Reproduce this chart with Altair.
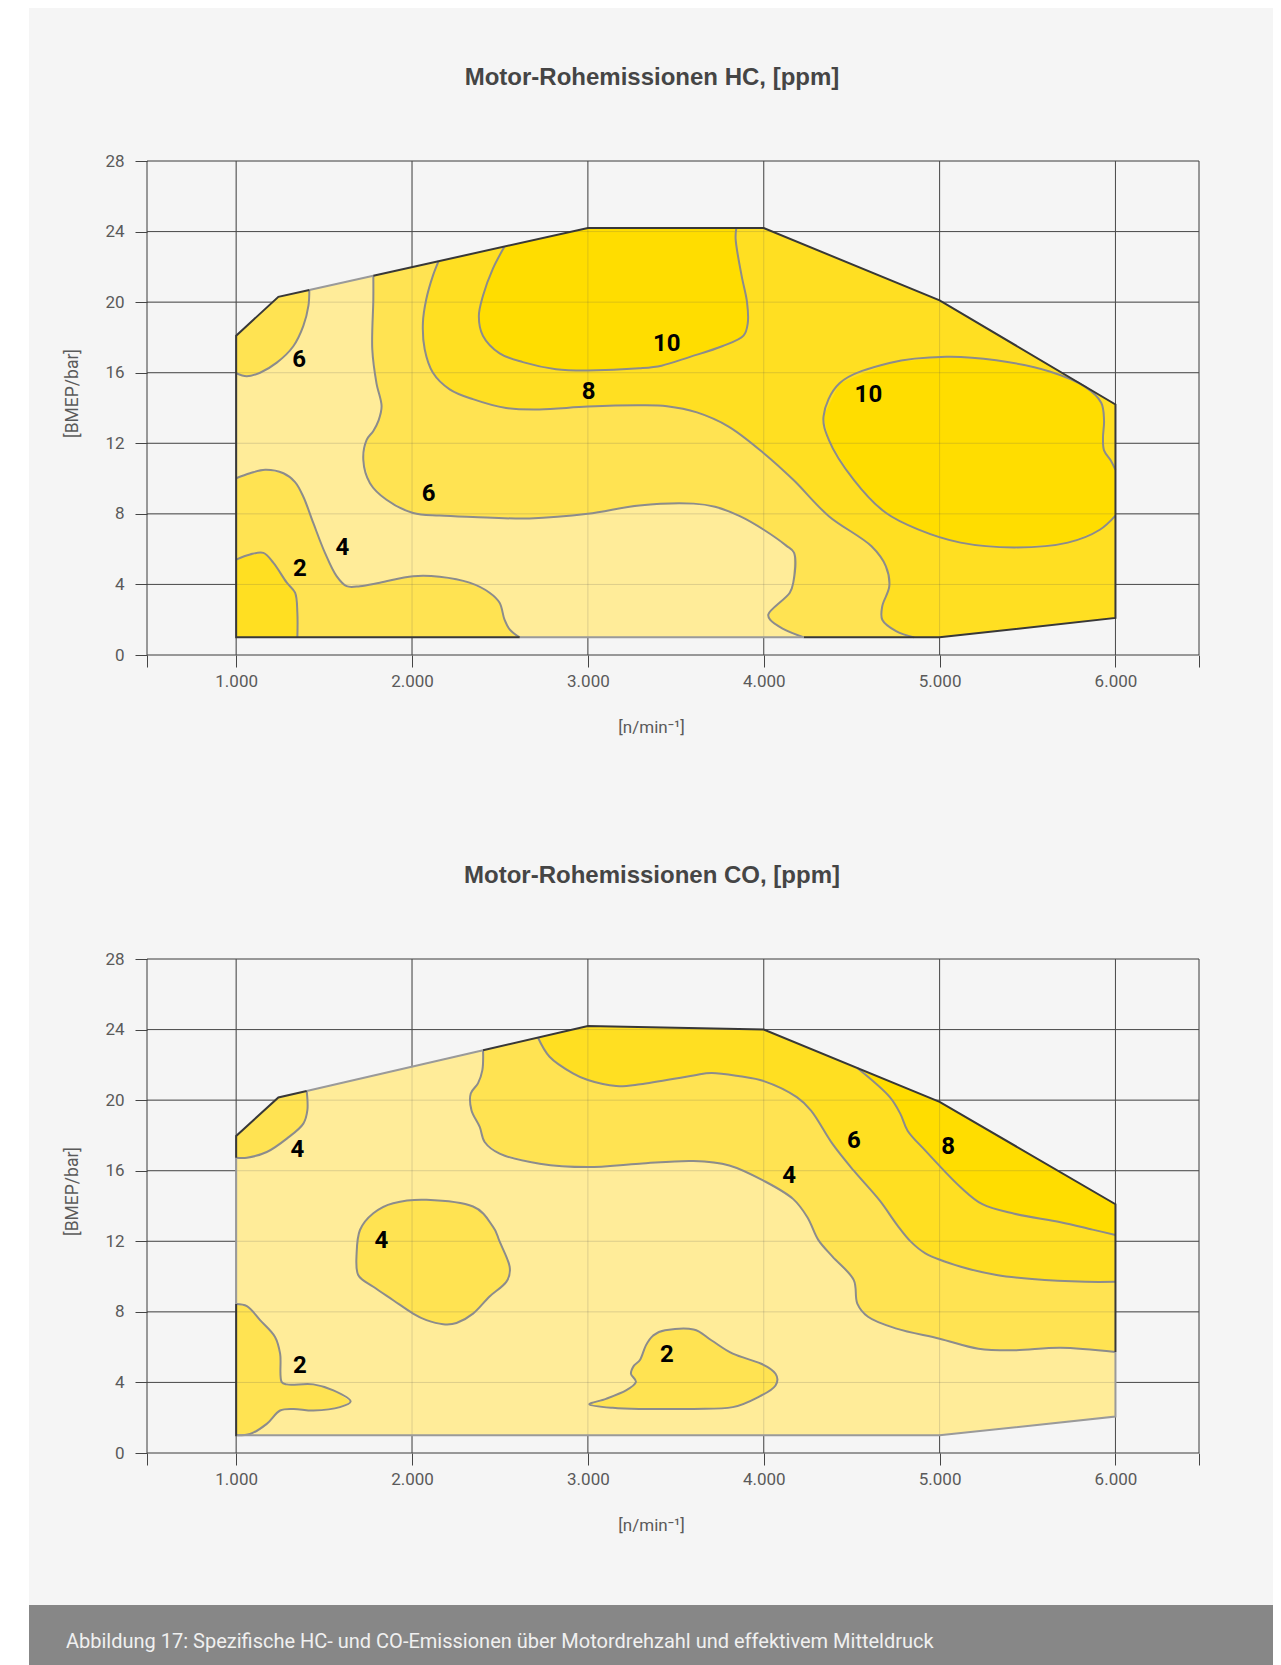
import altair as alt
import pandas as pd

# ---------------- texts / axes ----------------
TITLE_HC = "Motor-Rohemissionen HC, [ppm]"
TITLE_CO = "Motor-Rohemissionen CO, [ppm]"
X_TITLE = "[n/min⁻¹]"
Y_TITLE = "[BMEP/bar]"
CAPTION = "Abbildung 17: Spezifische HC- und CO-Emissionen über Motordrehzahl und effektivem Mitteldruck"

X_MIN, X_MAX = 493, 6475
Y_MIN, Y_MAX = 0, 28
X_GRID = [493, 1000, 2000, 3000, 4000, 5000, 6000, 6475]
Y_TICKS = [0, 4, 8, 12, 16, 20, 24, 28]

# ---------------- HC map ----------------
HC_ENV = [(1000, 1.0), (1000, 18.1), (1240, 20.3), (3000, 24.2), (4000, 24.2),
          (5000, 20.1), (6000, 14.2), (6000, 2.1), (5000, 1.0)]
HC_C6_CORNER = [(1416, 20.69), (1411, 19.8), (1382, 18.65), (1325, 17.5), (1231, 16.57),
                (1136, 16.0), (1060, 15.8), (1000, 15.97)]
HC_C6 = [(1780, 21.5), (1780, 20.16), (1774, 17.33), (1798, 15.4), (1827, 14.1), (1810, 13.3),
         (1780, 12.7), (1742, 12.19), (1723, 11.06), (1761, 9.74), (1855, 8.8), (2006, 8.05),
         (2157, 7.9), (2346, 7.82), (2668, 7.74), (3000, 8.0), (3293, 8.48), (3601, 8.58),
         (3723, 8.4), (3864, 7.87), (4000, 7.1), (4128, 6.2), (4172, 5.8), (4168, 4.1),
         (4148, 3.53), (4026, 2.3), (4036, 2.0), (4107, 1.5), (4229, 1.0)]
HC_C8 = [(2151, 22.32), (2119, 21.5), (2081, 20.16), (2062, 18.84), (2072, 17.33), (2119, 16.0),
         (2214, 15.06), (2346, 14.5), (2535, 14.0), (2724, 13.92), (3000, 14.08), (3293, 14.15),
         (3450, 14.1), (3620, 13.75), (3800, 12.95), (4000, 11.44), (4168, 9.93), (4370, 7.87),
         (4613, 6.16), (4694, 5.04), (4714, 3.9), (4674, 2.77), (4674, 2.0), (4755, 1.34),
         (4856, 1.0)]
HC_C10_TOP = [(2526, 23.15), (2460, 21.9), (2403, 20.35), (2380, 19.2), (2403, 18.1),
              (2498, 17.1), (2630, 16.6), (2819, 16.2), (3000, 16.13), (3293, 16.25),
              (3419, 16.4), (3581, 16.9), (3763, 17.5), (3885, 18.1), (3909, 18.8),
              (3905, 20.0), (3874, 21.5), (3840, 23.6), (3844, 24.2)]
HC_C10_RIGHT = [(6000, 10.5), (5975, 11.0), (5935, 11.6), (5929, 12.3), (5935, 13.3),
                (5919, 14.3), (5828, 15.2), (5626, 16.07), (5322, 16.7), (5038, 16.9),
                (4715, 16.55), (4431, 15.4), (4340, 13.53), (4370, 12.2), (4512, 9.93),
                (4694, 8.06), (4877, 7.12), (5119, 6.37), (5425, 6.1), (5729, 6.37),
                (5911, 7.1), (6000, 7.9)]
HC_C4 = [(1000, 10.02), (1079, 10.3), (1165, 10.5), (1269, 10.3), (1335, 9.8), (1382, 8.97),
         (1439, 7.47), (1505, 5.79), (1571, 4.47), (1628, 3.9), (1704, 3.9), (1817, 4.1),
         (2006, 4.47), (2157, 4.44), (2327, 4.1), (2441, 3.53), (2498, 2.96), (2526, 2.0),
         (2555, 1.45), (2612, 1.0)]
HC_C2 = [(1000, 5.41), (1079, 5.7), (1155, 5.79), (1212, 5.22), (1288, 4.1), (1335, 3.53),
         (1348, 2.4), (1348, 1.0)]
HC_RIGHT_SIDE = [(5000, 1.0), (6000, 2.1), (6000, 14.2), (5000, 20.1), (4000, 24.2), (3000, 24.2)]
HC_EDGE_DARK = [
    [(2612, 1.0), (1000, 1.0), (1000, 18.1), (1240, 20.3), (1416, 20.69)],
    [(1780, 21.5), (3000, 24.2), (4000, 24.2), (5000, 20.1), (6000, 14.2), (6000, 2.1),
     (5000, 1.0), (4229, 1.0)],
]
HC_EDGE_GRAY = [
    [(1416, 20.69), (1780, 21.5)],
    [(2612, 1.0), (4229, 1.0)],
]
HC_LABELS = [("6", 1358, 16.72), ("6", 2094, 9.14), ("4", 1604, 6.07), ("2", 1363, 4.88),
             ("8", 3004, 14.93), ("10", 3449, 17.6), ("10", 4595, 14.75)]

# ---------------- CO map ----------------
CO_ENV = [(1000, 1.0), (1000, 17.97), (1240, 20.15), (3000, 24.2), (4000, 24.0),
          (5000, 19.9), (6000, 14.1), (6000, 2.07), (5000, 1.0)]
CO_C4_CORNER = [(1401, 20.52), (1405, 19.43), (1382, 18.67), (1288, 17.82), (1174, 17.06),
                (1061, 16.74), (1000, 16.74)]
CO_C4_BLOB = [(2082, 14.35), (2347, 13.97), (2460, 12.83), (2498, 11.99), (2555, 10.57),
              (2536, 9.7), (2441, 8.87), (2347, 7.9), (2253, 7.37), (2177, 7.3), (2082, 7.53),
              (2006, 7.9), (1893, 8.66), (1780, 9.42), (1694, 10.09), (1685, 11.32),
              (1704, 12.64), (1780, 13.59), (1893, 14.16)]
CO_C2_LEFT = [(1000, 8.44), (1061, 8.32), (1136, 7.53), (1221, 6.58), (1250, 5.63),
              (1259, 4.02), (1288, 3.89), (1439, 3.89), (1553, 3.55), (1651, 2.92),
              (1590, 2.6), (1439, 2.41), (1325, 2.5), (1250, 2.41), (1174, 1.65),
              (1079, 1.08), (1004, 1.0)]
CO_C2_BLOB = [(3009, 2.75), (3103, 3.07), (3217, 3.55), (3273, 4.02), (3245, 4.49),
              (3262, 4.95), (3298, 5.3), (3330, 6.1), (3370, 6.65), (3439, 6.96),
              (3601, 7.0), (3702, 6.39), (3824, 5.63), (3986, 5.06), (4067, 4.49),
              (4067, 3.83), (3986, 3.26), (3824, 2.6), (3601, 2.5), (3292, 2.5), (3141, 2.56)]
CO_C4 = [(2404, 22.83), (2400, 21.7), (2375, 20.95), (2334, 20.38), (2338, 19.43),
         (2385, 18.48), (2413, 17.63), (2498, 16.97), (2726, 16.4), (3000, 16.21),
         (3293, 16.4), (3601, 16.55), (3804, 16.3), (4000, 15.43), (4168, 14.39),
         (4249, 13.35), (4310, 12.08), (4391, 11.13), (4512, 9.8), (4532, 8.47),
         (4593, 7.72), (4755, 7.05), (5000, 6.48), (5221, 5.91), (5423, 5.82),
         (5686, 5.97), (6000, 5.73)]
CO_C6 = [(2716, 23.55), (2782, 22.46), (2915, 21.52), (3000, 21.14), (3161, 20.8),
         (3298, 20.9), (3601, 21.4), (3702, 21.54), (3864, 21.35), (4000, 21.08),
         (4188, 20.17), (4269, 19.41), (4391, 17.52), (4512, 16.0), (4660, 14.3),
         (4760, 12.9), (4836, 11.98), (4919, 11.32), (5121, 10.56), (5324, 10.09),
         (5526, 9.86), (5830, 9.7), (6000, 9.7)]
CO_C8 = [(4532, 21.82), (4717, 20.17), (4777, 19.22), (4818, 18.27), (4919, 17.14),
         (5121, 15.05), (5243, 14.1), (5425, 13.56), (5688, 13.08), (5870, 12.66),
         (6000, 12.36)]
CO_RIGHT_SIDE = [(6000, 14.1), (5000, 19.9), (4000, 24.0), (3000, 24.2)]
CO_EDGE_DARK = [
    [(1000, 8.44), (1000, 1.0), (1004, 1.0)],
    [(1000, 16.74), (1000, 17.97), (1240, 20.15), (1401, 20.52)],
    [(2404, 22.83), (3000, 24.2), (4000, 24.0), (5000, 19.9), (6000, 14.1), (6000, 5.73)],
]
CO_EDGE_GRAY = [
    [(1000, 8.44), (1000, 16.74)],
    [(1401, 20.52), (2404, 22.83)],
    [(6000, 5.73), (6000, 2.07), (5000, 1.0), (1004, 1.0)],
]
CO_LABELS = [("4", 1348, 17.16), ("4", 1826, 12.04), ("2", 1363, 4.93), ("2", 3449, 5.54),
             ("4", 4144, 15.68), ("6", 4512, 17.7), ("8", 5049, 17.33)]

# ---------------- style ----------------
FONT = "Roboto"
LIGHT, MEDIUM, DARKER, DARKEST = "#ffec99", "#ffe352", "#ffdf22", "#ffdd00"
PANEL = "#f5f5f5"
W, H = 1052, 494
PANEL_RIGHT = 1126  # keeps the whole canvas inside the 1281 px window


def xenc():
    return alt.X("x:Q", scale=alt.Scale(domain=[X_MIN, X_MAX], nice=False, zero=False),
                 axis=alt.Axis(values=X_GRID, grid=False, domain=False,
                               labelExpr="datum.value < 900 || datum.value > 6100 ? '' : format(datum.value / 1000, '.3f')",
                               tickSize=12, tickColor="#454545", labelFont=FONT, labelFontSize=17,
                               labelColor="#5a5a5a", labelPadding=6, labelFlush=False,
                               labelOverlap=False, title=X_TITLE, titleFont=FONT,
                               titleFontSize=17, titleFontWeight="normal", titleColor="#5a5a5a",
                               titleX=504, titleY=72, titleBaseline="middle", titleAlign="center",
                               zindex=1))


def yenc():
    return alt.Y("y:Q", scale=alt.Scale(domain=[Y_MIN, Y_MAX], nice=False, zero=False),
                 axis=alt.Axis(values=Y_TICKS, grid=False, domain=False, tickSize=12,
                               tickColor="#454545", labelFont=FONT, labelFontSize=17,
                               labelColor="#5a5a5a", labelPadding=11, title=Y_TITLE,
                               titleFont=FONT, titleFontSize=17.5, titleFontWeight="normal",
                               titleColor="#5a5a5a", titleX=-75, titleY=232, titleAngle=270,
                               titleBaseline="middle", titleAlign="center", zindex=1))


def pts(groups):
    rows = []
    for gi, p in enumerate(groups):
        for i, (x, y) in enumerate(p):
            rows.append({"g": gi, "i": i, "x": x, "y": y})
    return pd.DataFrame(rows)


def lines(groups, **kw):
    return alt.Chart(pts(groups)).mark_line(**kw).encode(
        x=xenc(), y=yenc(), detail="g:N", order="i:Q")


def fills(groups, color, interp="linear"):
    return lines(groups, fill=color, strokeOpacity=0, interpolate=interp)


def grid(color, opacity):
    hg = alt.Chart(pd.DataFrame({"y": Y_TICKS, "x": [X_MIN] * len(Y_TICKS),
                                 "x2": [X_MAX] * len(Y_TICKS)})).mark_rule(
        color=color, strokeWidth=1, opacity=opacity).encode(x=xenc(), x2="x2:Q", y=yenc())
    vg = alt.Chart(pd.DataFrame({"x": X_GRID, "y": [Y_MIN] * len(X_GRID),
                                 "y2": [Y_MAX] * len(X_GRID)})).mark_rule(
        color=color, strokeWidth=1, opacity=opacity).encode(x=xenc(), y=yenc(), y2="y2:Q")
    return [hg, vg]


def labels(lab):
    df = pd.DataFrame(lab, columns=["t", "x", "y"])
    return alt.Chart(df).mark_text(font=FONT, fontSize=24, fontWeight="bold", color="#000000",
                                   align="center", baseline="middle").encode(
        x=xenc(), y=yenc(), text="t:N")


ONE = pd.DataFrame({"a": [0]})


def title_text(t, ypos):
    return alt.Chart(ONE).mark_text(text=t, font="Liberation Sans", fontSize=24,
                                    fontWeight="bold", color="#454545", align="center",
                                    baseline="middle").encode(x=alt.value(505), y=alt.value(ypos))


GRAY_LINE = "#8c8c8c"

# ---------- chart 1 ----------
panel = alt.Chart(ONE).mark_rect(fill=PANEL).encode(
    x=alt.value(-118), x2=alt.value(PANEL_RIGHT), y=alt.value(-153), y2=alt.value(1450))

hc_layers = [panel] + grid("#4a4a4a", 1.0) + [
    fills([HC_ENV], LIGHT),
    fills([HC_C6_CORNER + [(1000, 18.1), (1240, 20.3)],
           HC_C6 + HC_RIGHT_SIDE,
           HC_C4 + [(1000, 1.0)]], MEDIUM),
    fills([HC_C8 + HC_RIGHT_SIDE, HC_C2 + [(1000, 1.0)]], DARKER),
    fills([HC_C10_TOP + [(3000, 24.2)], HC_C10_RIGHT], DARKEST),
] + grid("#555555", 0.2) + [
    lines([HC_C6_CORNER, HC_C6, HC_C8, HC_C10_TOP, HC_C10_RIGHT, HC_C4, HC_C2],
          stroke=GRAY_LINE, strokeWidth=2, interpolate="catmull-rom"),
    lines(HC_EDGE_GRAY, stroke="#9a9a9a", strokeWidth=2),
    lines(HC_EDGE_DARK, stroke="#383838", strokeWidth=2),
    labels(HC_LABELS),
    title_text(TITLE_HC, -83),
]
hc = alt.layer(*hc_layers).properties(width=W, height=H)

# ---------- chart 2 ----------
caption_bar = alt.Chart(ONE).mark_rect(fill="#878787").encode(
    x=alt.value(-118), x2=alt.value(PANEL_RIGHT), y=alt.value(646), y2=alt.value(760))
caption_text = alt.Chart(ONE).mark_text(text=CAPTION, font=FONT, fontSize=20, color="#f0f0f0",
                                        align="left", baseline="middle").encode(
    x=alt.value(-81), y=alt.value(683))

co_layers = grid("#4a4a4a", 1.0) + [
    fills([CO_ENV], LIGHT),
    fills([CO_C4_CORNER + [(1000, 17.97), (1240, 20.15)],
           CO_C2_LEFT + [(1000, 1.0)],
           CO_C4 + CO_RIGHT_SIDE], MEDIUM),
    fills([CO_C4_BLOB, CO_C2_BLOB], MEDIUM, "cardinal-closed"),
    fills([CO_C6 + CO_RIGHT_SIDE], DARKER),
    fills([CO_C8 + [(6000, 14.1), (5000, 19.9)]], DARKEST),
] + grid("#555555", 0.2) + [
    lines([CO_C4_CORNER, CO_C2_LEFT, CO_C4, CO_C6, CO_C8],
          stroke=GRAY_LINE, strokeWidth=2, interpolate="catmull-rom"),
    lines([CO_C4_BLOB, CO_C2_BLOB], stroke=GRAY_LINE, strokeWidth=2,
          interpolate="cardinal-closed"),
    lines(CO_EDGE_GRAY, stroke="#9a9a9a", strokeWidth=2),
    lines(CO_EDGE_DARK, stroke="#383838", strokeWidth=2),
    labels(CO_LABELS),
    title_text(TITLE_CO, -83),
    caption_bar,
    caption_text,
]
co = alt.layer(*co_layers).properties(width=W, height=H)

chart = alt.vconcat(hc, co, spacing=304, bounds="flush").properties(
    padding={"left": 21, "top": 0, "right": 0, "bottom": 0},
    background="white",
).configure_view(strokeOpacity=0)

chart.save("out.html", embed_options={"renderer": "svg", "actions": False})
